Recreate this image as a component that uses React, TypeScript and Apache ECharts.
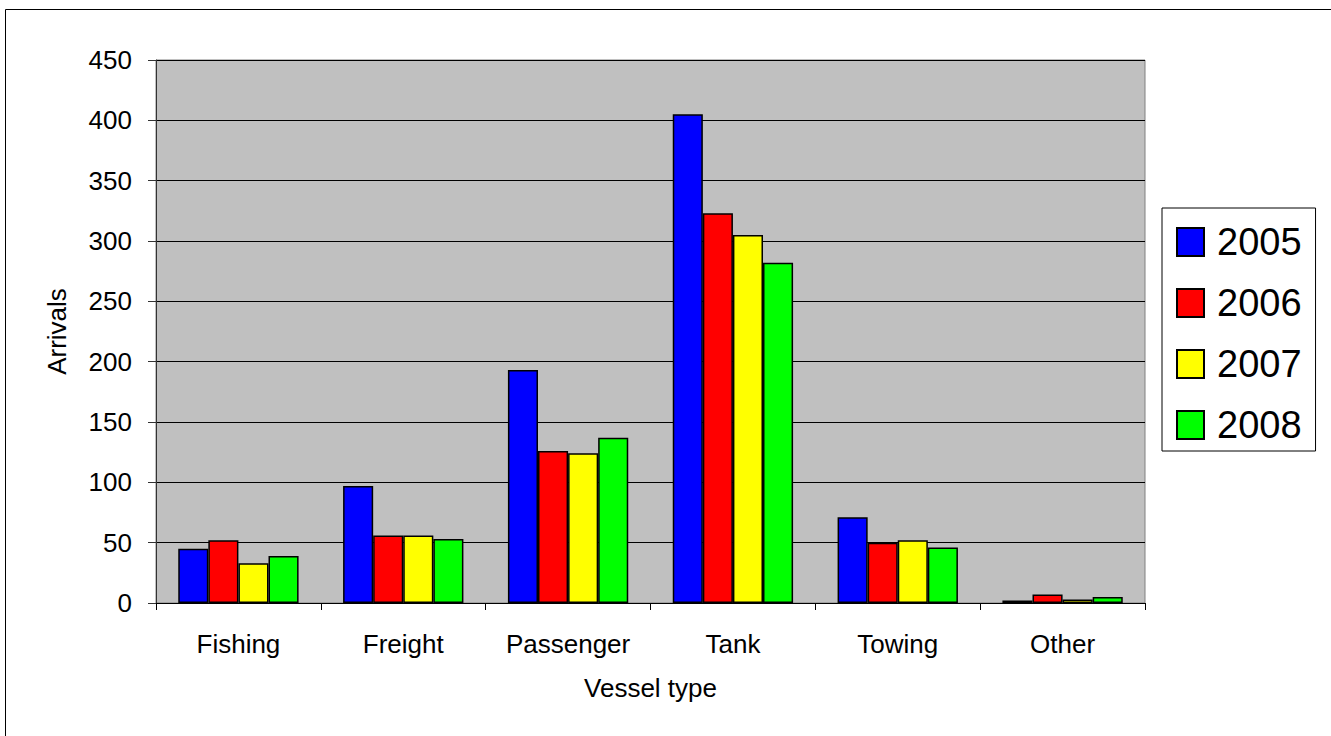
import React, { useEffect, useRef } from "react";
import * as echarts from "echarts";

const categories = ["Fishing", "Freight", "Passenger", "Tank", "Towing", "Other"];
const seriesNames = ["2005", "2006", "2007", "2008"];
const values2005 = [45, 97, 193, 405, 71, 2];
const values2006 = [52, 56, 126, 323, 50, 7];
const values2007 = [33, 56, 124, 305, 52, 3];
const values2008 = [39, 53, 137, 282, 46, 5];
const colors = ["#0000FF", "#FF0000", "#FFFF00", "#00FF00"];

const FONT = "'Liberation Sans', Arial, sans-serif";

export default function App() {
  const ref = useRef<HTMLDivElement>(null);
  useEffect(() => {
    if (!ref.current) return;
    const chart = echarts.init(ref.current, null, { renderer: "svg" });
    const allValues = [values2005, values2006, values2007, values2008];
    chart.setOption({
      animation: false,
      backgroundColor: "#ffffff",
      textStyle: { fontFamily: FONT, color: "#000" },
      graphic: [
        {
          type: "rect",
          shape: { x: 5.5, y: 9.5, width: 1400, height: 800 },
          style: { fill: "none", stroke: "#000", lineWidth: 1 },
          silent: true,
          z: -10,
        },
      ],
      grid: {
        left: 156,
        right: 186,
        top: 60,
        bottom: 133,
        show: true,
        backgroundColor: "#C0C0C0",
        borderColor: "#808080",
        borderWidth: 1,
      },
      legend: {
        orient: "vertical",
        left: 1162,
        top: 208,
        data: seriesNames,
        itemWidth: 27,
        itemHeight: 28,
        itemGap: 23,
        padding: [15, 14, 7, 14],
        borderColor: "#000",
        borderWidth: 1,
        backgroundColor: "#fff",
        icon: "rect",
        textStyle: { fontSize: 38, fontFamily: FONT, color: "#000", lineHeight: 38, padding: [0, 0, 0, 8] },
      },
      xAxis: {
        type: "category",
        data: categories,
        name: "Vessel type",
        nameLocation: "middle",
        nameGap: 72,
        nameTextStyle: { fontSize: 26, fontFamily: FONT, color: "#000" },
        axisLine: { lineStyle: { color: "#000", width: 1 } },
        axisTick: { show: true, length: 7, lineStyle: { color: "#000" } },
        axisLabel: { fontSize: 26, fontFamily: FONT, color: "#000", margin: 28 },
      },
      yAxis: {
        type: "value",
        min: 0,
        max: 450,
        interval: 50,
        name: "Arrivals",
        nameLocation: "middle",
        nameGap: 86,
        nameTextStyle: { fontSize: 26, fontFamily: FONT, color: "#000" },
        axisLine: { show: true, lineStyle: { color: "#333", width: 1 } },
        axisTick: { show: true, length: 8, lineStyle: { color: "#333" } },
        axisLabel: { fontSize: 26, fontFamily: FONT, color: "#000", margin: 24 },
        splitLine: { show: true, lineStyle: { color: "#000", width: 1 } },
      },
      series: seriesNames.map((name, i) => ({
        name,
        type: "bar",
        data: allValues[i],
        barGap: "0%",
        barCategoryGap: "27%",
        itemStyle: { color: colors[i], borderColor: "#000", borderWidth: 1.5 },
      })),
    });
    return () => chart.dispose();
  }, []);
  return (
    <div
      ref={ref}
      style={{ position: "absolute", left: 0, top: 0, width: 1331, height: 736 }}
    />
  );
}
